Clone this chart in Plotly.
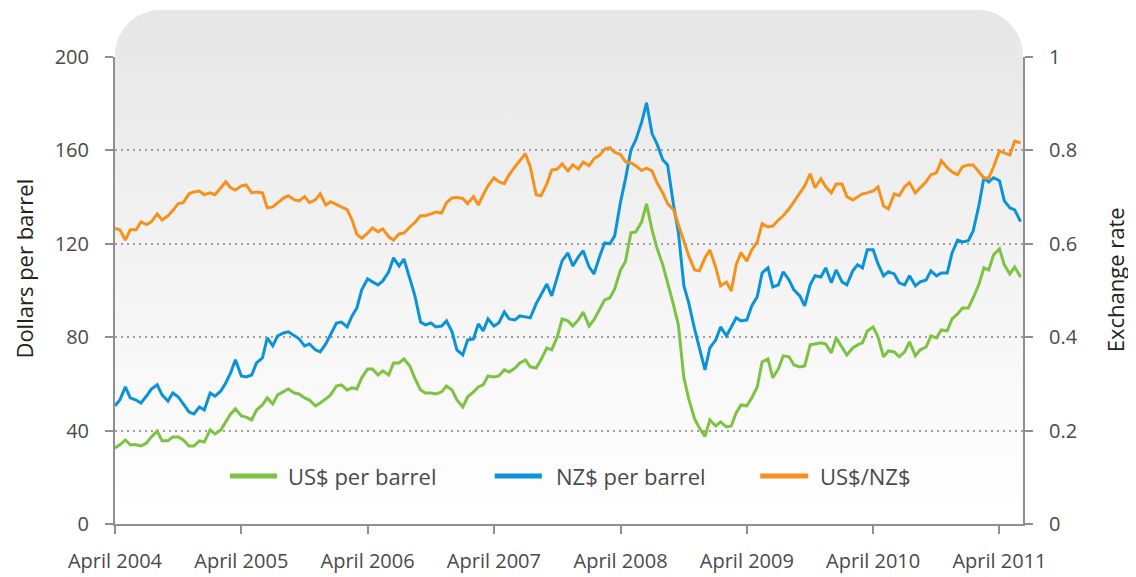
import base64
import pandas as pd
import plotly.graph_objects as go

# ---------------- data ----------------
# semi-monthly observations, 1 Apr 2004 .. 1 Jun 2011
dates = pd.date_range("2004-04-01", periods=173, freq="SMS").strftime("%Y-%m-%d").tolist()

us_per_barrel = [
    32.6, 33.9, 36.0, 33.9, 33.9, 33.4, 34.7, 37.3, 39.8, 35.6,
    35.6, 37.3, 37.3, 36.0, 33.4, 33.4, 35.6, 35.1, 40.3, 38.6,
    40.3, 43.7, 47.1, 49.3, 46.3, 45.8, 44.6, 48.8, 51.0, 54.0,
    51.4, 55.3, 56.6, 57.8, 56.1, 55.7, 54.0, 53.1, 50.6, 51.8,
    53.6, 55.3, 59.1, 59.6, 57.4, 58.3, 57.8, 62.6, 66.4, 66.4,
    63.8, 65.6, 63.8, 69.0, 69.0, 70.7, 67.7, 62.6, 57.4, 56.1,
    56.1, 55.7, 56.6, 59.1, 57.4, 53.1, 50.1, 54.4, 56.6, 58.7,
    59.6, 63.4, 63.0, 63.4, 66.0, 65.1, 66.8, 69.0, 70.3, 67.3,
    66.8, 70.3, 75.4, 74.6, 80.1, 87.8, 87.0, 84.8, 87.4, 90.8,
    84.8, 87.4, 92.1, 96.0, 96.8, 100.7, 108.8, 112.3, 124.7, 125.1,
    129.4, 137.1, 126.0, 118.3, 111.0, 103.7, 93.8, 85.3, 62.6, 53.6,
    45.0, 41.1, 37.5, 44.6, 42.0, 43.7, 41.6, 42.0, 47.6, 51.0,
    50.6, 54.0, 58.7, 69.4, 70.7, 62.6, 66.4, 72.0, 71.6, 68.1,
    67.3, 67.7, 76.7, 77.1, 77.6, 77.1, 73.3, 79.7, 75.4, 72.4,
    75.4, 76.7, 77.6, 82.7, 84.4, 80.1, 71.6, 74.1, 73.7, 71.6,
    73.7, 78.0, 72.0, 74.6, 75.8, 80.6, 79.7, 83.1, 82.7, 87.8,
    90.0, 92.5, 92.5, 96.8, 102.8, 109.7, 108.8, 115.3, 117.8, 111.0,
    107.1, 110.1, 105.8,
]

nz_per_barrel = [
    50.6, 53.1, 58.7, 54.0, 53.1, 51.8, 54.8, 57.8, 59.6, 55.3,
    52.7, 56.1, 54.4, 51.4, 48.0, 47.1, 50.1, 48.8, 56.1, 54.8,
    57.0, 60.4, 64.7, 70.3, 63.4, 63.0, 63.8, 69.0, 71.1, 79.7,
    76.3, 80.6, 81.8, 82.3, 80.6, 79.3, 76.3, 77.1, 74.6, 73.7,
    77.1, 81.0, 86.1, 86.5, 84.4, 89.1, 92.5, 100.3, 105.0, 103.7,
    102.4, 104.1, 108.0, 114.0, 110.5, 113.5, 105.4, 98.1, 86.5, 85.3,
    86.1, 84.4, 84.8, 87.0, 82.3, 74.6, 72.4, 78.8, 79.3, 85.7,
    82.7, 87.8, 84.8, 86.1, 90.8, 87.8, 87.4, 89.1, 88.7, 88.3,
    94.3, 98.1, 102.8, 97.7, 106.3, 112.7, 116.1, 110.5, 114.4, 117.0,
    110.1, 107.1, 114.8, 120.4, 120.0, 123.4, 138.0, 147.6, 160.2, 164.5,
    172.1, 180.4, 167.2, 162.9, 156.0, 153.8, 136.7, 125.1, 102.0, 94.7,
    83.5, 75.4, 66.0, 75.4, 78.8, 84.4, 80.6, 84.4, 88.3, 87.0,
    87.4, 93.4, 97.3, 107.5, 109.7, 101.5, 102.4, 108.0, 104.5, 100.3,
    97.7, 93.4, 102.4, 106.3, 105.8, 109.7, 103.3, 108.8, 103.7, 102.4,
    108.4, 111.0, 109.7, 117.4, 117.4, 111.4, 106.3, 108.0, 107.1, 103.3,
    102.4, 106.3, 102.0, 103.7, 104.5, 108.4, 106.3, 107.5, 107.5, 116.1,
    121.6, 120.8, 121.3, 125.5, 136.7, 148.3, 146.5, 148.3, 147.0, 138.4,
    135.4, 134.5, 129.5,
]

usd_per_nzd = [
    0.633, 0.630, 0.608, 0.630, 0.630, 0.647, 0.641, 0.647, 0.664, 0.651,
    0.660, 0.671, 0.686, 0.688, 0.707, 0.711, 0.713, 0.705, 0.709, 0.705,
    0.720, 0.733, 0.720, 0.715, 0.724, 0.726, 0.709, 0.711, 0.709, 0.677,
    0.679, 0.688, 0.698, 0.703, 0.694, 0.692, 0.701, 0.688, 0.694, 0.707,
    0.683, 0.690, 0.683, 0.679, 0.673, 0.651, 0.620, 0.612, 0.623, 0.634,
    0.626, 0.632, 0.615, 0.608, 0.621, 0.623, 0.636, 0.645, 0.660, 0.660,
    0.664, 0.668, 0.666, 0.688, 0.698, 0.699, 0.697, 0.686, 0.701, 0.683,
    0.705, 0.724, 0.741, 0.733, 0.729, 0.748, 0.765, 0.778, 0.793, 0.765,
    0.705, 0.703, 0.728, 0.758, 0.760, 0.771, 0.756, 0.769, 0.760, 0.775,
    0.767, 0.782, 0.790, 0.803, 0.806, 0.796, 0.791, 0.776, 0.773, 0.767,
    0.757, 0.762, 0.756, 0.731, 0.709, 0.686, 0.673, 0.642, 0.606, 0.574,
    0.544, 0.542, 0.570, 0.587, 0.550, 0.510, 0.518, 0.499, 0.555, 0.581,
    0.563, 0.587, 0.604, 0.643, 0.636, 0.638, 0.651, 0.660, 0.675, 0.690,
    0.711, 0.724, 0.750, 0.720, 0.739, 0.722, 0.709, 0.728, 0.728, 0.701,
    0.694, 0.701, 0.707, 0.709, 0.713, 0.722, 0.681, 0.675, 0.707, 0.703,
    0.722, 0.731, 0.709, 0.720, 0.733, 0.748, 0.752, 0.778, 0.763, 0.754,
    0.748, 0.765, 0.769, 0.769, 0.754, 0.741, 0.741, 0.765, 0.799, 0.795,
    0.790, 0.820, 0.816,
]

series_names = ["US$ per barrel", "NZ$ per barrel", "US$/NZ$"]
x_tick_vals = [f"{y}-04-01" for y in range(2004, 2012)]
x_tick_text = [f"April {y}" for y in range(2004, 2012)]
left_ticks = [0, 40, 80, 120, 160, 200]
right_ticks = [0, 0.2, 0.4, 0.6, 0.8, 1]
right_tick_text = ["0", "0.2", "0.4", "0.6", "0.8", "1"]

# ---------------- styles ----------------
GREEN = "#7dc242"
BLUE = "#0a93d8"
ORANGE = "#f5921e"
TXT = "#4a4a4a"
AX = "#8f8f8f"
FONT = "Open Sans"

fig = go.Figure()
fig.add_trace(go.Scatter(x=dates, y=us_per_barrel, mode="lines", name=series_names[0],
                         line=dict(color=GREEN, width=3)))
fig.add_trace(go.Scatter(x=dates, y=nz_per_barrel, mode="lines", name=series_names[1],
                         line=dict(color=BLUE, width=3)))
fig.add_trace(go.Scatter(x=dates, y=usd_per_nzd, mode="lines", name=series_names[2],
                         line=dict(color=ORANGE, width=3), yaxis="y2"))

# rounded gradient panel behind the plot area
svg = (
    '<svg xmlns="http://www.w3.org/2000/svg" width="908" height="514" viewBox="0 0 908 514" '
    'preserveAspectRatio="none">'
    '<defs><linearGradient id="g" x1="0" y1="0" x2="0" y2="1">'
    '<stop offset="0" stop-color="#e6e6e6"/><stop offset="0.6" stop-color="#f6f6f6"/>'
    '<stop offset="1" stop-color="#ffffff"/></linearGradient></defs>'
    '<path d="M0,514 L0,46 A46,46 0 0 1 46,0 L862,0 A46,46 0 0 1 908,46 L908,514 Z" fill="url(#g)"/>'
    '</svg>'
)
svg_uri = "data:image/svg+xml;base64," + base64.b64encode(svg.encode()).decode()
panel_top = 1.1014
fig.add_layout_image(dict(source=svg_uri, xref="paper", yref="paper", x=0, y=panel_top,
                          sizex=1, sizey=panel_top, xanchor="left", yanchor="top",
                          sizing="stretch", layer="below"))

axis_common = dict(showline=True, linecolor=AX, linewidth=2, ticks="outside", ticklen=8,
                   tickwidth=2, tickcolor=AX, zeroline=False, automargin=False,
                   tickfont=dict(family=FONT, size=20, color=TXT))

# the page body adds an 8px offset, so the figure is sized to fit inside the window
fig.update_layout(
    width=1128, height=569,
    margin=dict(l=107, r=113, t=49, b=53, autoexpand=False),
    paper_bgcolor="white", plot_bgcolor="rgba(0,0,0,0)",
    showlegend=False,
    font=dict(family=FONT, color=TXT),
    xaxis=dict(type="date", range=["2004-04-01", "2011-06-08"], tickvals=x_tick_vals,
               ticktext=x_tick_text, showgrid=False, ticklabelstandoff=10, **axis_common),
    yaxis=dict(range=[0, 200], tickvals=left_ticks, showgrid=True, gridcolor="#a0a0a0",
               gridwidth=2, griddash="2px,4px", ticklabelstandoff=12, **axis_common),
    yaxis2=dict(range=[0, 1], tickvals=right_ticks, ticktext=right_tick_text, overlaying="y",
                side="right", showgrid=False, ticklabelstandoff=12, **axis_common),
)

# manual legend
leg_y = 0.103
legend_items = [
    (0.1267, 0.1785, 0.1884, GREEN, series_names[0]),
    (0.4182, 0.4701, 0.4836, BLUE, series_names[1]),
    (0.7106, 0.7635, 0.7745, ORANGE, series_names[2]),
]
for x0, x1, xt, col, label in legend_items:
    fig.add_shape(type="line", xref="paper", yref="paper", x0=x0, x1=x1, y0=leg_y, y1=leg_y,
                  line=dict(color=col, width=5))
    fig.add_annotation(text=label, xref="paper", yref="paper", x=xt, y=leg_y, xanchor="left",
                       yanchor="middle", showarrow=False, font=dict(family=FONT, size=22, color=TXT))

# axis titles
fig.add_annotation(text="Dollars per barrel", xref="paper", yref="paper", x=-0.1005, y=0.5464,
                   textangle=-90, showarrow=False, xanchor="center", yanchor="middle",
                   font=dict(family=FONT, size=22, color="#222222"))
fig.add_annotation(text="Exchange rate", xref="paper", yref="paper", x=1.1017, y=0.5228,
                   textangle=-90, showarrow=False, xanchor="center", yanchor="middle",
                   font=dict(family=FONT, size=22, color="#222222"))

fig.write_html("out.html")
